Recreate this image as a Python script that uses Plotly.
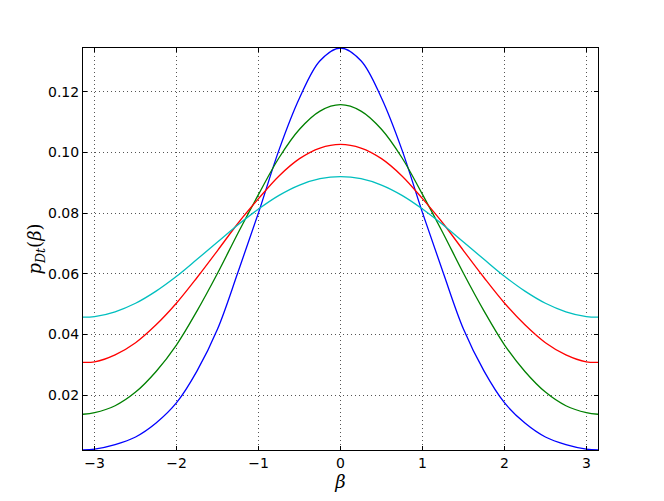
import math
import plotly.graph_objects as go

# beta grid (radians)
beta = [-math.pi, -3.0, -2.75, -2.5, -2.25, -2.0, -1.75, -1.5, -1.25, -1.0, -0.75, -0.5, -0.25, 0.0,
        0.25, 0.5, 0.75, 1.0, 1.25, 1.5, 1.75, 2.0, 2.25, 2.5, 2.75, 3.0, math.pi]

p_blue = [0.0019, 0.0022, 0.0037, 0.0062, 0.0108, 0.0175, 0.0280, 0.0418, 0.0606, 0.0802, 0.1009, 0.1180, 0.1303, 0.1345,
          0.1303, 0.1180, 0.1009, 0.0802, 0.0606, 0.0418, 0.0280, 0.0175, 0.0108, 0.0062, 0.0037, 0.0022, 0.0019]
p_green = [0.0137, 0.0142, 0.0165, 0.0210, 0.0278, 0.0366, 0.0478, 0.0602, 0.0735, 0.0862, 0.0983, 0.1077, 0.1137, 0.1158,
           0.1137, 0.1077, 0.0983, 0.0862, 0.0735, 0.0602, 0.0478, 0.0366, 0.0278, 0.0210, 0.0165, 0.0142, 0.0137]
p_red = [0.0308, 0.0310, 0.0333, 0.0373, 0.0432, 0.0504, 0.0588, 0.0677, 0.0767, 0.0848, 0.0923, 0.0980, 0.1015, 0.1027,
         0.1015, 0.0980, 0.0923, 0.0848, 0.0767, 0.0677, 0.0588, 0.0504, 0.0432, 0.0373, 0.0333, 0.0310, 0.0308]
p_cyan = [0.0457, 0.0459, 0.0475, 0.0503, 0.0543, 0.0592, 0.0648, 0.0705, 0.0762, 0.0814, 0.0859, 0.0893, 0.0914, 0.0921,
          0.0914, 0.0893, 0.0859, 0.0814, 0.0762, 0.0705, 0.0648, 0.0592, 0.0543, 0.0503, 0.0475, 0.0459, 0.0457]

x_ticks = [-3, -2, -1, 0, 1, 2, 3]
y_ticks = [0.02, 0.04, 0.06, 0.08, 0.10, 0.12]

series = [(p_blue, '#0000ff'), (p_green, '#008000'), (p_red, '#ff0000'), (p_cyan, '#00bfbf')]

fig = go.Figure()
for ys, col in series:
    fig.add_trace(go.Scatter(x=beta, y=ys, mode='lines',
                             line=dict(color=col, width=1.3, shape='spline'),
                             showlegend=False))

all_y = p_blue + p_green + p_red + p_cyan
axis_style = dict(showline=True, linecolor='black', linewidth=1, mirror='ticks',
                  ticks='inside', ticklen=4, tickcolor='black',
                  showgrid=True, gridcolor='#555555', griddash='1px,3px', gridwidth=1,
                  zeroline=False, automargin=False,
                  tickfont=dict(family='DejaVu Sans', size=14, color='black'))

fig.update_xaxes(range=[beta[0], beta[-1]], tickvals=x_ticks,
                 title=dict(text='<i>β</i>', font=dict(family='DejaVu Serif', size=18, color='black'), standoff=2),
                 **axis_style)
fig.update_yaxes(range=[min(all_y), max(all_y)], tickvals=y_ticks, tickformat='.2f',
                 title=dict(text='<i>p</i><sub><i>Dt</i></sub>(<i>β</i>)',
                            font=dict(family='DejaVu Serif', size=18, color='black'), standoff=1),
                 **axis_style)

# page body adds ~8px offset, so the figure is a bit smaller than the window
fig.update_layout(width=656, height=493, plot_bgcolor='white', paper_bgcolor='white',
                  margin=dict(l=75, r=66, t=40, b=51))

fig.write_html("out.html")
